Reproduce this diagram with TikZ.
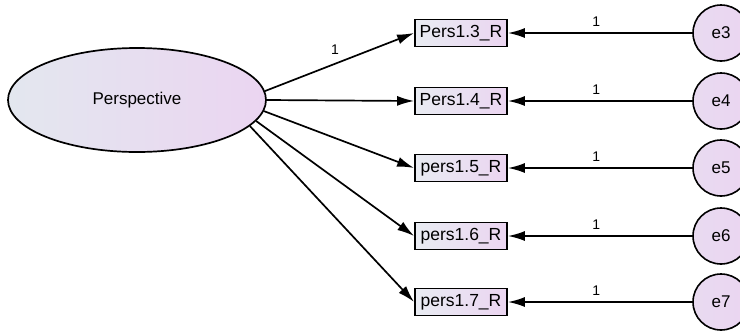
\documentclass[tikz,border=0pt]{standalone}
\usepackage{fontspec}
\setmainfont{Liberation Sans}
\usetikzlibrary{shapes.geometric,arrows.meta}
\definecolor{lgb}{HTML}{E3E7EF}
\definecolor{lav}{HTML}{EBD5F1}
\tikzset{
  latent/.style={ellipse,draw,line width=1.7pt,left color=lgb,right color=lav,
    minimum width=258pt,minimum height=104pt,inner sep=0pt,font=\fontsize{17}{19}\selectfont},
  obsbox/.style={rectangle,draw,line width=1.8pt,left color=lgb!80!white,right color=lav,
    minimum width=92pt,minimum height=27pt,inner sep=0pt,font=\fontsize{17.5}{19}\selectfont},
  errc/.style={circle,draw,line width=1.6pt,left color=lav!70!lgb,right color=lav,
    minimum size=56pt,inner sep=0pt,font=\fontsize{17}{19}\selectfont},
  arr/.style={line width=1.7pt,-{Latex[length=17pt,width=10pt]}},
  wlab/.style={font=\fontsize{14}{16}\selectfont,inner sep=0pt}
}
\begin{document}
\begin{tikzpicture}[x=1pt,y=-1pt]
\useasboundingbox (0,0) rectangle (740,333);
\clip (0,0) rectangle (740,333);
\fill[white] (0,0) rectangle (740,333);
\node[latent] (P) at (137,100) {Perspective};
\node[obsbox] (b1) at (461,33) {Pers1.3\_R};
\node[obsbox] (b2) at (461,101) {Pers1.4\_R};
\node[obsbox] (b3) at (461,168) {pers1.5\_R};
\node[obsbox] (b4) at (461,236) {pers1.6\_R};
\node[obsbox] (b5) at (461,302) {pers1.7\_R};
\node[errc] (e3) at (721,33) {e3};
\node[errc] (e4) at (721,101) {e4};
\node[errc] (e5) at (721,168) {e5};
\node[errc] (e6) at (721,236) {e6};
\node[errc] (e7) at (721,302) {e7};
\draw[arr] (P.4.5) -- node[wlab,pos=0.47,above=8pt] (l0) {1} (b1.west);
\draw[arr] (P.0) -- (b2.west);
\draw[arr] (P.-5.5) -- (b3.west);
\draw[arr] (P.-10) -- (b4.west);
\draw[arr] (P.-13) -- (b5.west);
\draw[arr] (e3) -- node[wlab,above=6pt,pos=0.52] (l3) {1} (b1.east);
\draw[arr] (e4) -- node[wlab,above=6pt,pos=0.52] (l4) {1} (b2.east);
\draw[arr] (e5) -- node[wlab,above=6pt,pos=0.52] (l5) {1} (b3.east);
\draw[arr] (e6) -- node[wlab,above=6pt,pos=0.52] (l6) {1} (b4.east);
\draw[arr] (e7) -- node[wlab,above=6pt,pos=0.52] (l7) {1} (b5.east);
\end{tikzpicture}
\end{document}
